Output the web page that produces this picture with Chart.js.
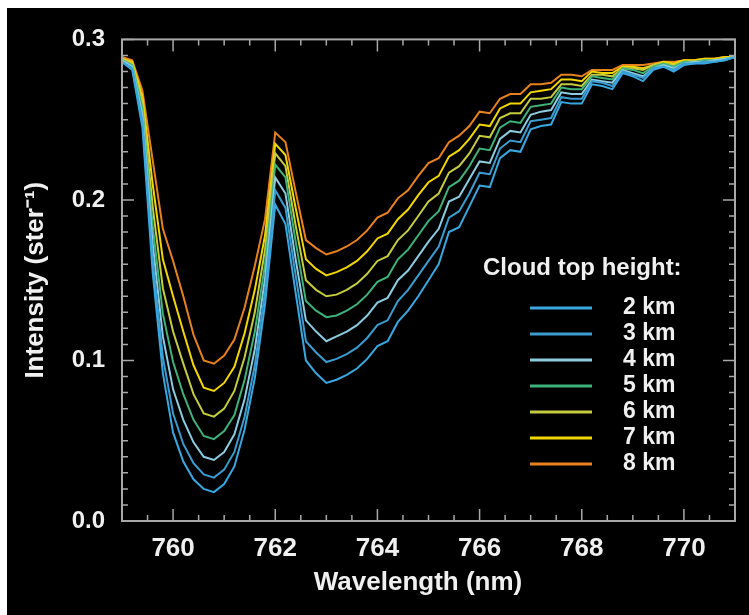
<!DOCTYPE html>
<html>
<head>
<meta charset="utf-8">
<script src="https://cdn.jsdelivr.net/npm/chart.js@4.4.0/dist/chart.umd.min.js"></script>
<style>
  html, body { margin: 0; padding: 0; background: #fff; }
  #wrap { position: absolute; left: 7px; top: 8px; width: 742px; height: 607px; background: #000; }
</style>
</head>
<body>
<div id="wrap"><canvas id="chart" width="742" height="607"></canvas></div>
<script>
// wavelength grid (nm)
const wavelengths = [
  759.0, 759.2, 759.4, 759.6, 759.8, 760.0, 760.2, 760.4, 760.6, 760.8,
  761.0, 761.2, 761.4, 761.6, 761.8, 762.0, 762.2, 762.4, 762.6, 762.8,
  763.0, 763.2, 763.4, 763.6, 763.8, 764.0, 764.2, 764.4, 764.6, 764.8,
  765.0, 765.2, 765.4, 765.6, 765.8, 766.0, 766.2, 766.4, 766.6, 766.8,
  767.0, 767.2, 767.4, 767.6, 767.8, 768.0, 768.2, 768.4, 768.6, 768.8,
  769.0, 769.2, 769.4, 769.6, 769.8, 770.0, 770.2, 770.4, 770.6, 770.8, 771.0
];

// intensity (ster^-1) for each cloud top height
const km2 = [
  .286, .281, .245, .155, .092, .055, .037, .026, .020, .018,
  .023, .034, .057, .089, .135, .197, .185, .142, .100, .092,
  .086, .088, .091, .095, .101, .109, .112, .124, .131, .140,
  .150, .160, .180, .183, .196, .209, .208, .226, .231, .230,
  .244, .246, .247, .261, .260, .260, .272, .271, .269, .279,
  .277, .274, .281, .283, .280, .284, .285, .285, .286, .287, .289
];
const km3 = [
  .286, .282, .249, .163, .102, .067, .048, .036, .029, .027,
  .032, .043, .065, .097, .143, .206, .195, .153, .112, .105,
  .099, .101, .104, .108, .114, .122, .125, .137, .144, .153,
  .162, .171, .189, .193, .204, .217, .216, .232, .237, .236,
  .249, .250, .251, .264, .263, .263, .274, .273, .271, .280,
  .278, .276, .282, .283, .281, .285, .285, .286, .286, .287, .289
];
const km4 = [
  .287, .283, .253, .173, .115, .082, .063, .049, .040, .038,
  .043, .054, .076, .107, .151, .214, .204, .163, .125, .118,
  .112, .115, .118, .122, .128, .136, .139, .150, .156, .165,
  .174, .182, .199, .202, .213, .224, .223, .238, .243, .242,
  .253, .255, .256, .267, .266, .266, .275, .274, .273, .281,
  .279, .277, .282, .284, .282, .285, .286, .286, .287, .288, .289
];
const km5 = [
  .287, .284, .257, .184, .129, .099, .079, .063, .053, .051,
  .056, .066, .088, .118, .160, .222, .214, .174, .137, .131,
  .127, .128, .131, .135, .141, .149, .152, .163, .169, .178,
  .187, .193, .208, .212, .221, .232, .231, .245, .249, .248,
  .258, .259, .260, .270, .269, .269, .277, .276, .275, .282,
  .281, .279, .283, .285, .283, .286, .286, .287, .287, .288, .289
];
const km6 = [
  .288, .285, .260, .196, .145, .118, .098, .079, .067, .065,
  .070, .081, .102, .130, .169, .229, .221, .184, .150, .144,
  .140, .141, .144, .148, .154, .162, .165, .175, .181, .190,
  .199, .204, .217, .221, .229, .240, .239, .251, .254, .254,
  .263, .263, .264, .272, .272, .271, .278, .278, .277, .282,
  .282, .281, .284, .285, .284, .286, .286, .287, .287, .288, .289
];
const km7 = [
  .288, .286, .264, .210, .163, .140, .118, .097, .083, .081,
  .086, .096, .117, .144, .178, .235, .228, .195, .163, .157,
  .153, .155, .158, .162, .168, .176, .179, .188, .194, .203,
  .211, .215, .227, .231, .238, .247, .246, .257, .260, .260,
  .267, .268, .269, .275, .275, .274, .280, .279, .279, .283,
  .283, .282, .284, .286, .285, .287, .287, .288, .288, .289, .289
];
const km8 = [
  .289, .287, .268, .225, .182, .162, .140, .116, .100, .098,
  .103, .113, .133, .159, .188, .242, .236, .205, .175, .170,
  .166, .168, .171, .175, .181, .189, .192, .201, .206, .215,
  .223, .226, .236, .240, .246, .255, .254, .263, .266, .266,
  .272, .272, .273, .278, .278, .277, .281, .281, .281, .284,
  .284, .284, .285, .286, .286, .287, .287, .288, .288, .289, .289
];

const heights = ['2 km', '3 km', '4 km', '5 km', '6 km', '7 km', '8 km'];
const series = [km2, km3, km4, km5, km6, km7, km8];
const xTickLabels = [760, 762, 764, 766, 768, 770];
const yTickLabels = ['0.0', '0.1', '0.2', '0.3'];
const legendTitle = 'Cloud top height:';
const xTitle = 'Wavelength (nm)';

const lineColors = ['#3aa8e0', '#3d9ccf', '#8ccbe0', '#3fb27a', '#c5cc3e', '#f2d600', '#e8821e'];
const FONT = '"Liberation Sans", Arial, sans-serif';
const TEXT = '#f0f0f0';
const AXIS = '#a8a8a8';

function isMajorY(v) {
  return Math.abs(v * 10 - Math.round(v * 10)) < 1e-6 && yTickLabels.includes(v.toFixed(1));
}

// boxed frame with inward ticks on all four sides
const frameTicks = {
  id: 'frameTicks',
  afterDatasetsDraw(chart) {
    const { ctx, chartArea: a, scales: { x, y } } = chart;
    ctx.save();
    ctx.strokeStyle = AXIS;
    ctx.lineWidth = 2;
    ctx.strokeRect(a.left, a.top, a.right - a.left, a.bottom - a.top);
    ctx.lineWidth = 1.5;
    ctx.beginPath();
    x.ticks.forEach(t => {
      const px = x.getPixelForValue(t.value);
      const len = xTickLabels.includes(t.value) ? 12 : 6;
      ctx.moveTo(px, a.bottom); ctx.lineTo(px, a.bottom - len);
      ctx.moveTo(px, a.top); ctx.lineTo(px, a.top + len);
    });
    y.ticks.forEach(t => {
      const py = y.getPixelForValue(t.value);
      const len = isMajorY(t.value) ? 12 : 6;
      ctx.moveTo(a.left, py); ctx.lineTo(a.left + len, py);
      ctx.moveTo(a.right, py); ctx.lineTo(a.right - len, py);
    });
    ctx.stroke();
    ctx.restore();
  }
};

// legend inside the plot (lower right) and the x-axis title
const cloudLegend = {
  id: 'cloudLegend',
  afterDraw(chart) {
    const ctx = chart.ctx;
    ctx.save();
    ctx.fillStyle = TEXT;
    ctx.textBaseline = 'middle';
    ctx.font = 'bold 26px ' + FONT;
    ctx.textAlign = 'center';
    ctx.fillText(xTitle, 411, 575);
    ctx.textAlign = 'left';
    ctx.font = 'bold 24px ' + FONT;
    ctx.fillText(legendTitle, 476, 260);
    ctx.font = 'bold 23px ' + FONT;
    chart.data.datasets.forEach((ds, i) => {
      const yy = 300 + i * 26;
      ctx.strokeStyle = ds.borderColor;
      ctx.lineWidth = 3;
      ctx.beginPath();
      ctx.moveTo(523, yy);
      ctx.lineTo(585, yy);
      ctx.stroke();
      ctx.fillStyle = TEXT;
      ctx.fillText(ds.label, 616, yy);
    });
    ctx.restore();
  }
};

new Chart(document.getElementById('chart'), {
  type: 'line',
  data: {
    datasets: series.map((s, i) => ({
      label: heights[i],
      data: wavelengths.map((w, j) => ({ x: w, y: s[j] })),
      borderColor: lineColors[i],
      borderWidth: 2,
      pointRadius: 0,
      tension: 0,
      fill: false
    }))
  },
  options: {
    responsive: false,
    animation: false,
    devicePixelRatio: 1,
    layout: { padding: { top: 22, right: 14, left: 0, bottom: 0 } },
    plugins: {
      legend: { display: false },
      tooltip: { enabled: false }
    },
    scales: {
      x: {
        type: 'linear',
        min: 759,
        max: 771,
        grid: { display: false, drawTicks: false },
        border: { display: false },
        ticks: {
          stepSize: 0.5,
          autoSkip: false,
          maxRotation: 0,
          padding: 12,
          color: TEXT,
          font: { family: FONT, size: 26, weight: 'bold' },
          callback: v => xTickLabels.includes(v) ? String(v) : ''
        },
        afterFit: s => { s.height = 94; }
      },
      y: {
        type: 'linear',
        min: 0,
        max: 0.3,
        grid: { display: false, drawTicks: false },
        border: { display: false },
        ticks: {
          stepSize: 0.01,
          autoSkip: false,
          padding: 17,
          color: TEXT,
          font: { family: FONT, size: 24, weight: 'bold' },
          callback: v => isMajorY(v) ? v.toFixed(1) : ''
        },
        title: {
          display: true,
          text: 'Intensity (ster\u207B\u00B9)',
          color: TEXT,
          font: { family: FONT, size: 26, weight: 'bold' },
          padding: { top: 13, bottom: 0 }
        },
        afterFit: s => { s.width = 115; }
      }
    }
  },
  plugins: [frameTicks, cloudLegend]
});
</script>
</body>
</html>
